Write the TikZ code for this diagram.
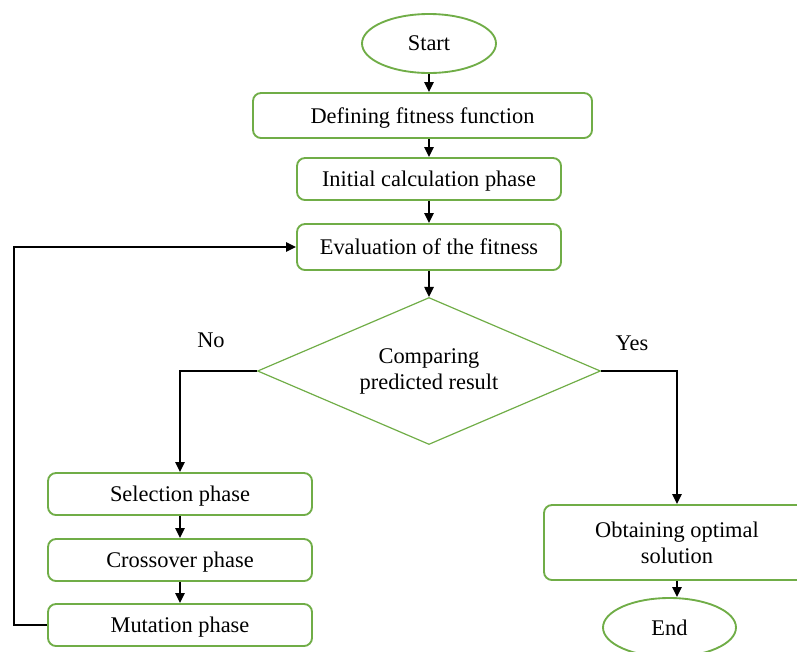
\documentclass[tikz,border=0pt]{standalone}
\usepackage{fontspec}
\setmainfont{Liberation Serif}
\usetikzlibrary{shapes.geometric,arrows.meta}

\definecolor{boxgreen}{RGB}{112,173,71}

\tikzset{
  every node/.style={font=\fontsize{16.8}{19.5}\selectfont},
  terminal/.style={ellipse, draw=boxgreen, line width=1.4pt, inner sep=0pt},
  phase/.style={rectangle, rounded corners=6pt, draw=boxgreen, line width=1.4pt, inner sep=0pt, align=center},
  oneline/.style={text height=12.5pt, text depth=1pt},
  decide/.style={diamond, draw=boxgreen, line width=0.9pt, inner sep=0pt, align=center, shape aspect=2.333},
  flow/.style={line width=1.3pt, -{Triangle[length=7.5pt,width=7pt]}}
}

\begin{document}
\begin{tikzpicture}[x=0.75pt,y=0.75pt,yscale=-1,xscale=1]
    \useasboundingbox (0,0) rectangle (797,651);
    \begin{scope}
    \clip (0,0) rectangle (797,651);

    %Shape: Ellipse [id:start]
    \node [terminal, minimum width=100.5pt, minimum height=44.25pt] (start) at (429,43.5) {Start};
    %Shape: Rounded Rect [id:define]
    \node [phase, oneline, minimum width=254.25pt, minimum height=33.75pt] (define) at (422.5,115.5) {Defining fitness function};
    %Shape: Rounded Rect [id:init]
    \node [phase, oneline, minimum width=198pt, minimum height=31.5pt] (init) at (429,179) {Initial calculation phase};
    %Shape: Rounded Rect [id:eval]
    \node [phase, minimum width=198pt, minimum height=34.5pt] (eval) at (429,247) {Evaluation of the fitness};
    %Shape: Diamond [id:compare]
    \node [decide, minimum width=257.25pt, minimum height=110.25pt] (compare) at (429,371) {Comparing\\predicted result};
    %Shape: Rounded Rect [id:select]
    \node [phase, oneline, minimum width=198pt, minimum height=31.5pt] (select) at (180,494) {Selection phase};
    %Shape: Rounded Rect [id:cross]
    \node [phase, oneline, minimum width=198pt, minimum height=31.5pt] (cross) at (180,560) {Crossover phase};
    %Shape: Rounded Rect [id:mutate]
    \node [phase, oneline, minimum width=198pt, minimum height=31.5pt] (mutate) at (180,625) {Mutation phase};
    %Shape: Rounded Rect [id:optimal]
    \node [phase, minimum width=199.5pt, minimum height=56.25pt] (optimal) at (677,542.5) {Obtaining optimal\\solution};
    %Shape: Ellipse [id:stop]
    \node [terminal, minimum width=99.75pt, minimum height=44.25pt] (stop) at (669.5,627.5) {End};

    % Text Node
    \node [inner sep=0.75pt] (no) at (211,340) {No};
    % Text Node
    \node [inner sep=0.75pt] (yes) at (632,343) {Yes};

    %Straight Lines
    \draw [flow] (start) -- (start |- define.north);
    \draw [flow] (define.south -| init) -- (init);
    \draw [flow] (init) -- (eval);
    \draw [flow] (eval) -- (compare.north);
    \draw [flow] (compare.west) -| (select.north);
    \draw [flow] (compare.east) -| (optimal.north);
    \draw [flow] (select) -- (cross);
    \draw [flow] (cross) -- (mutate);
    \draw [flow] (optimal.south) -- (optimal.south |- stop.north);
    %Elbow Connector
    \coordinate (loop) at (14,625);
    \draw [flow] (mutate.west) -- (loop) |- (eval.west);
    \end{scope}
\end{tikzpicture}
\end{document}
